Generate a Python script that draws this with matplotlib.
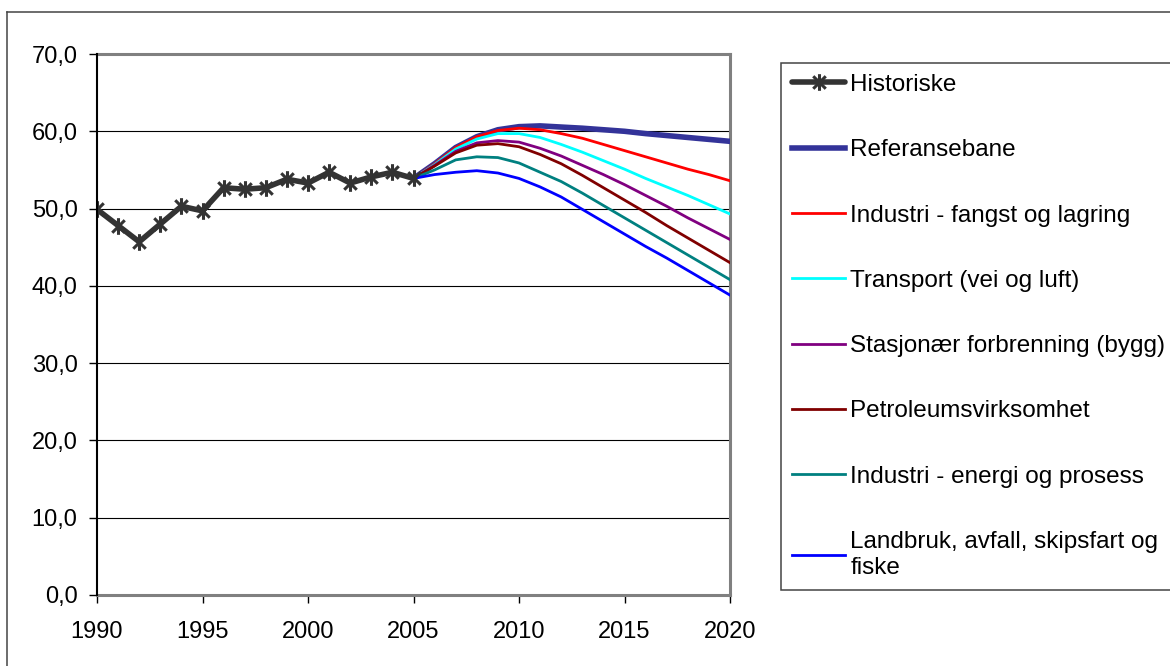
import matplotlib
matplotlib.use("Agg")
import matplotlib.pyplot as plt
from matplotlib.lines import Line2D
from matplotlib.path import Path
from matplotlib.ticker import FuncFormatter, MultipleLocator

plt.rcParams["font.family"] = ["Liberation Sans", "DejaVu Sans"]

# historical emissions (mill. tonn CO2-ekv.)
HIST_YEARS = list(range(1990, 2006))
HIST_VALUES = [49.9, 47.8, 45.7, 48.0, 50.3, 49.7, 52.7, 52.5, 52.7, 53.8,
               53.3, 54.7, 53.3, 54.1, 54.7, 53.9]

# projections 2005-2020: reference path and path after each group of measures
PROJ_YEARS = list(range(2005, 2021))
REFERANSEBANE = [53.9, 55.8, 57.9, 59.3, 60.2, 60.6, 60.7, 60.55, 60.4, 60.2,
                 60.0, 59.7, 59.45, 59.2, 58.95, 58.7]
IND_FANGST = [53.9, 55.8, 57.9, 59.3, 60.1, 60.4, 60.2, 59.7, 59.1, 58.3,
              57.5, 56.7, 55.9, 55.1, 54.4, 53.6]
TRANSPORT = [53.9, 55.7, 57.7, 59.0, 59.7, 59.7, 59.2, 58.3, 57.3, 56.2,
             55.1, 53.9, 52.8, 51.7, 50.5, 49.3]
STASJONAER = [53.9, 55.6, 57.4, 58.5, 58.8, 58.6, 57.8, 56.8, 55.6, 54.4,
              53.1, 51.7, 50.3, 48.8, 47.4, 46.0]
PETROLEUM = [53.9, 55.5, 57.2, 58.2, 58.4, 58.0, 57.0, 55.8, 54.3, 52.7,
             51.1, 49.5, 47.8, 46.2, 44.6, 43.0]
IND_ENERGI = [53.9, 55.0, 56.3, 56.7, 56.6, 55.9, 54.7, 53.5, 52.0, 50.4,
              48.8, 47.2, 45.6, 44.0, 42.4, 40.8]
LANDBRUK = [53.9, 54.4, 54.7, 54.9, 54.6, 53.9, 52.8, 51.5, 49.9, 48.3,
            46.7, 45.1, 43.6, 42.0, 40.4, 38.8]

SCENARIOS = [
    ("Referansebane", REFERANSEBANE, "#333399", 4.0),
    ("Industri - fangst og lagring", IND_FANGST, "#FF0000", 2.0),
    ("Transport (vei og luft)", TRANSPORT, "#00FFFF", 2.0),
    ("Stasjonær forbrenning (bygg)", STASJONAER, "#800080", 2.0),
    ("Petroleumsvirksomhet", PETROLEUM, "#800000", 2.0),
    ("Industri - energi og prosess", IND_ENERGI, "#008080", 2.0),
    ("Landbruk, avfall, skipsfart og\nfiske", LANDBRUK, "#0000FF", 2.0),
]

# asterisk marker: vertical bar plus an X
star = Path(
    [(0, -1), (0, 1), (-0.75, -0.75), (0.75, 0.75), (-0.75, 0.75), (0.75, -0.75)],
    [Path.MOVETO, Path.LINETO, Path.MOVETO, Path.LINETO, Path.MOVETO, Path.LINETO],
)

W, H = 1170, 666
fig = plt.figure(figsize=(W / 100, H / 100), dpi=100)
ax = fig.add_axes([97 / W, 1 - 595 / H, (730 - 97) / W, (595 - 54) / H])

handles = []
hist_line, = ax.plot(HIST_YEARS, HIST_VALUES, color="#333333", lw=4.0,
                     marker=star, markersize=12, mew=2.2, mec="#333333",
                     zorder=5, solid_capstyle="round", solid_joinstyle="round")
handles.append(hist_line)
for name, vals, color, lw in SCENARIOS:
    ln, = ax.plot(PROJ_YEARS, vals, color=color, lw=lw, zorder=3,
                  solid_joinstyle="round")
    handles.append(ln)

ax.set_xlim(1990, 2020)
ax.set_ylim(0, 70)
ax.xaxis.set_major_locator(MultipleLocator(5))
ax.yaxis.set_major_locator(MultipleLocator(10))
ax.yaxis.set_major_formatter(FuncFormatter(lambda v, _: f"{v:.1f}".replace(".", ",")))
ax.grid(axis="y", color="black", lw=0.8)
ax.set_axisbelow(True)

ax.tick_params(axis="both", direction="out", length=6, width=1.0,
               color="black", labelsize=17, labelcolor="black")
ax.tick_params(axis="y", pad=8)
ax.tick_params(axis="x", pad=13)

for side in ("top", "right", "bottom"):
    ax.spines[side].set_color("#808080")
    ax.spines[side].set_linewidth(2.2)
ax.spines["left"].set_color("black")
ax.spines["left"].set_linewidth(1.5)
ax.spines["left"].set_zorder(6)

labels = ["Historiske"] + [s[0] for s in SCENARIOS]
leg = fig.legend(handles, labels, loc="upper left",
                 bbox_to_anchor=(781 / W, 1 - 63 / H, 430 / W, 0), mode="expand",
                 borderaxespad=0, borderpad=0.45, handlelength=2.2,
                 handletextpad=0.2, labelspacing=1.78, fontsize=17.5,
                 fancybox=False, framealpha=1, edgecolor="#444444")
leg.get_frame().set_linewidth(1.1)
leg.get_texts()[-1].set_linespacing(1.25)

# outer chart border (left and top edges visible)
fig.add_artist(Line2D([7 / W, 7 / W], [0, 1 - 12 / H], transform=fig.transFigure,
                      color="#444444", lw=1.1))
fig.add_artist(Line2D([7 / W, 1], [1 - 12 / H, 1 - 12 / H], transform=fig.transFigure,
                      color="#444444", lw=1.1))

fig.savefig("out.png", dpi=100)
